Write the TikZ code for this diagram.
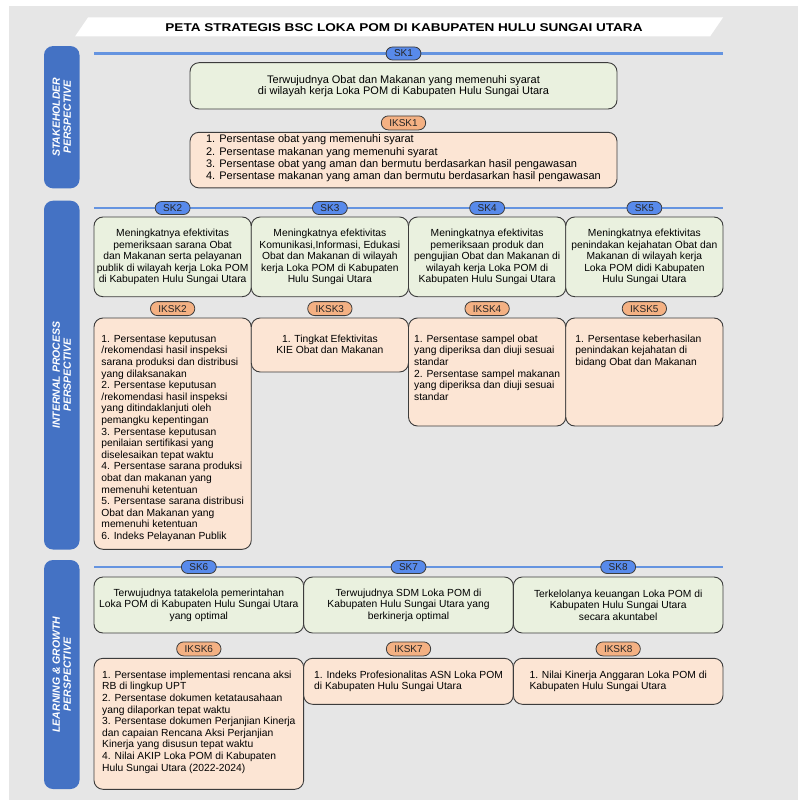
\documentclass[tikz,border=0pt]{standalone}
\usepackage{fontspec}
\setmainfont{Liberation Sans}
\newfontfamily\titlefont[FakeStretch=1.2]{Liberation Sans}
\usetikzlibrary{positioning}
\definecolor{bscgrey}{RGB}{230, 230, 230}
\definecolor{bscband}{RGB}{68, 114, 196}
\definecolor{bscline}{RGB}{101, 148, 224}
\definecolor{skblue}{RGB}{88, 138, 235}
\definecolor{iksorange}{RGB}{244, 177, 131}
\definecolor{skgreen}{RGB}{234, 241, 223}
\definecolor{ikspeach}{RGB}{252, 229, 212}
\definecolor{bscedge}{RGB}{60, 60, 60}

\begin{document}
\begin{tikzpicture}[
    x=1pt, y=-1pt,
    persp/.style={fill=bscband, rounded corners=9pt, rotate=90, minimum height=35.5pt, inner sep=0pt, align=center, text=white, font=\fontsize{10.5}{11}\selectfont\bfseries\itshape},
    sk-line/.style={draw=bscline, line width=2.6pt},
    sk-tag/.style={draw=bscedge, line width=0.8pt, fill=skblue, rounded corners=6.5pt, minimum height=13pt, inner xsep=8pt, inner ysep=0pt, text=black!85, font=\fontsize{10}{11}\selectfont},
    iks-tag/.style={sk-tag, fill=iksorange, minimum height=14pt, rounded corners=7pt},
    sk-box/.style={draw=bscedge, line width=0.9pt, fill=skgreen, rounded corners=9pt, outer sep=0pt, inner xsep=2pt, inner ysep=4pt, align=center, font=\fontsize{10.3}{11.5}\selectfont},
    iks-box/.style={draw=bscedge, line width=0.9pt, fill=ikspeach, rounded corners=9pt, outer sep=0pt, inner xsep=2pt, inner ysep=4pt, font=\fontsize{10.3}{11.6}\selectfont}
  ]

  \useasboundingbox (0,0) rectangle (798,800);
  \fill[bscgrey] (9,6) rectangle (798,800);
  \fill[white] (75,36.5) -- (88,17.5) -- (723,17.5) -- (710,36.5) -- cycle;
  \node[font=\titlefont\fontsize{11.3}{12}\selectfont\bfseries] (title) at (404,27.5) {PETA STRATEGIS BSC LOKA POM DI KABUPATEN HULU SUNGAI UTARA};

  \node[persp, minimum width=142.3pt] (stake) at (61.75,117.2) {STAKEHOLDER\\PERSPECTIVE};
  \node[persp, minimum width=348.8pt] (intern) at (61.75,375.1) {INTERNAL PROCESS\\PERSPECTIVE};
  \node[persp, minimum width=229pt] (learn) at (61.75,674.5) {LEARNING \& GROWTH\\PERSPECTIVE};

  % stakeholder
  \coordinate (l1w) at (94,53.5);
  \coordinate (l1e) at (723,53.5);
  \draw[sk-line] (l1w) -- (l1e);
  \node[sk-box, minimum width=427pt, minimum height=46.3pt, anchor=north, font=\fontsize{11}{11}\selectfont] (sk1) at (403.5,62.7)
    {Terwujudnya Obat dan Makanan yang memenuhi syarat\\di wilayah kerja Loka POM di Kabupaten Hulu Sungai Utara};
  \node[sk-tag] (sk1-tag) at (sk1.north |- l1w) {SK1};
  \node[iks-tag, below=6.5pt of sk1] (iks1-tag) {IKSK1};
  \node[iks-box, minimum width=427pt, inner ysep=2pt, text height=8.3pt, text depth=43.3pt, font=\fontsize{11}{12.4}\selectfont, below=2pt of iks1-tag] (iks1)
    {\begin{tabular}[t]{@{}l@{}}
     1. Persentase obat yang memenuhi syarat\\
     2. Persentase makanan yang memenuhi syarat\\
     3. Persentase obat yang aman dan bermutu berdasarkan hasil pengawasan\\
     4. Persentase makanan yang aman dan bermutu berdasarkan hasil pengawasan
     \end{tabular}};

  % internal process
  \coordinate (l2w) at (94,208);
  \coordinate (l2e) at (723,208);
  \draw[sk-line] (l2w) -- (l2e);
  \node[sk-box, minimum width=157.25pt, minimum height=79.7pt, anchor=north west] (sk2) at (94,217)
    {Meningkatnya efektivitas\\pemeriksaan sarana Obat\\dan Makanan serta pelayanan\\publik di wilayah kerja Loka POM\\di Kabupaten Hulu Sungai Utara};
  \node[sk-box, minimum width=157.25pt, minimum height=79.7pt, anchor=north west] (sk3) at (sk2.north east)
    {Meningkatnya efektivitas\\Komunikasi,Informasi, Edukasi\\Obat dan Makanan di wilayah\\kerja Loka POM di Kabupaten\\Hulu Sungai Utara};
  \node[sk-box, minimum width=157.25pt, minimum height=79.7pt, anchor=north west] (sk4) at (sk3.north east)
    {Meningkatnya efektivitas\\pemeriksaan produk dan\\pengujian Obat dan Makanan di\\wilayah kerja Loka POM di\\Kabupaten Hulu Sungai Utara};
  \node[sk-box, minimum width=157.25pt, minimum height=79.7pt, anchor=north west] (sk5) at (sk4.north east)
    {Meningkatnya efektivitas\\penindakan kejahatan Obat dan\\Makanan di wilayah kerja\\Loka POM didi Kabupaten\\Hulu Sungai Utara};
  \foreach \k in {2,...,5} {
      \node[sk-tag] (sk\k-tag) at (sk\k.north |- l2w) {SK\k};
    }

  \node[iks-tag, below=4.5pt of sk2] (iks2-tag) {IKSK2};
  \node[iks-box, minimum width=157.25pt, text height=20.3pt, text depth=203pt, below=2pt of iks2-tag] (iks2)
    {\begin{tabular}[t]{@{}l@{}}
     1. Persentase keputusan\\/rekomendasi hasil inspeksi\\sarana produksi dan distribusi\\yang dilaksanakan\\
     2. Persentase keputusan\\/rekomendasi hasil inspeksi\\yang ditindaklanjuti oleh\\pemangku kepentingan\\
     3. Persentase keputusan\\penilaian sertifikasi yang\\diselesaikan tepat waktu\\
     4. Persentase sarana produksi\\obat dan makanan yang\\memenuhi ketentuan\\
     5. Persentase sarana distribusi\\Obat dan Makanan yang\\memenuhi ketentuan\\
     6. Indeks Pelayanan Publik
     \end{tabular}};
  \node[iks-box, minimum width=157.25pt, text height=20.3pt, text depth=25.7pt, anchor=north west] (iks3) at (iks2.north east)
    {\begin{tabular}[t]{@{}c@{}}
     1. Tingkat Efektivitas\\KIE Obat dan Makanan
     \end{tabular}};
  \node[iks-box, minimum width=157.25pt, text height=20.3pt, text depth=79.7pt, anchor=north west] (iks4) at (iks3.north east)
    {\begin{tabular}[t]{@{}l@{}}
     1. Persentase sampel obat\\yang diperiksa dan diuji sesuai\\standar\\
     2. Persentase sampel makanan\\yang diperiksa dan diuji sesuai\\standar
     \end{tabular}};
  \node[iks-box, minimum width=157.25pt, text height=20.3pt, text depth=79.7pt, anchor=north west] (iks5) at (iks4.north east)
    {\begin{tabular}[t]{@{}l@{}}
     1. Persentase keberhasilan\\penindakan kejahatan di\\bidang Obat dan Makanan
     \end{tabular}\hspace*{12pt}};
  \foreach \k in {3,4,5} {
      \node[iks-tag] (iks\k-tag) at (iks\k.north |- iks2-tag) {IKSK\k};
    }

  % learning & growth
  \coordinate (l3w) at (94,567);
  \coordinate (l3e) at (723,567);
  \draw[sk-line] (l3w) -- (l3e);
  \node[sk-box, minimum width=209.67pt, minimum height=56pt, anchor=north west] (sk6) at (94,577)
    {Terwujudnya tatakelola pemerintahan\\Loka POM di Kabupaten Hulu Sungai Utara\\yang optimal};
  \node[sk-box, minimum width=209.67pt, minimum height=56pt, anchor=north west] (sk7) at (sk6.north east)
    {Terwujudnya SDM Loka POM di\\Kabupaten Hulu Sungai Utara yang\\berkinerja optimal};
  \node[sk-box, minimum width=209.67pt, minimum height=56pt, anchor=north west] (sk8) at (sk7.north east)
    {Terkelolanya keuangan Loka POM di\\Kabupaten Hulu Sungai Utara\\secara akuntabel};
  \foreach \k in {6,7,8} {
      \node[sk-tag] (sk\k-tag) at (sk\k.north |- l3w) {SK\k};
    }

  \node[iks-tag, below=8.5pt of sk6] (iks6-tag) {IKSK6};
  \node[iks-box, minimum width=209.67pt, text height=16pt, text depth=107pt, below=2pt of iks6-tag] (iks6)
    {\begin{tabular}[t]{@{}l@{}}
     1. Persentase implementasi rencana aksi\\RB di lingkup UPT\\
     2. Persentase dokumen ketatausahaan\\yang dilaporkan tepat waktu\\
     3. Persentase dokumen Perjanjian Kinerja\\dan capaian Rencana Aksi Perjanjian\\Kinerja yang disusun tepat waktu\\
     4. Nilai AKIP Loka POM di Kabupaten\\Hulu Sungai Utara (2022-2024)
     \end{tabular}};
  \node[iks-box, minimum width=209.67pt, text height=16pt, text depth=22pt, anchor=north west] (iks7) at (iks6.north east)
    {\begin{tabular}[t]{@{}l@{}}
     1. Indeks Profesionalitas ASN Loka POM\\di Kabupaten Hulu Sungai Utara
     \end{tabular}};
  \node[iks-box, minimum width=209.67pt, text height=16pt, text depth=22pt, anchor=north west] (iks8) at (iks7.north east)
    {\begin{tabular}[t]{@{}l@{}}
     1. Nilai Kinerja Anggaran Loka POM di\\Kabupaten Hulu Sungai Utara
     \end{tabular}};
  \foreach \k in {7,8} {
      \node[iks-tag] (iks\k-tag) at (iks\k.north |- iks6-tag) {IKSK\k};
    }

\end{tikzpicture}
\end{document}
